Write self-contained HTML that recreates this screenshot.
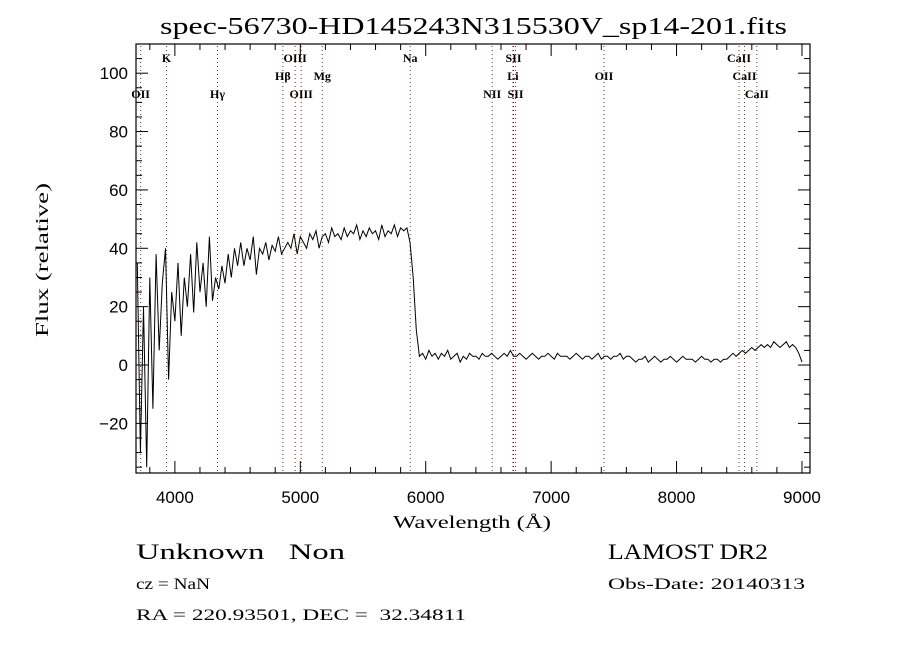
<!DOCTYPE html>
<html><head><meta charset="utf-8"><style>
body{margin:0;background:#fff}
svg text{font-family:"Liberation Serif",serif;fill:#000}
.tk{font-family:"Liberation Sans",sans-serif;font-size:17px}
.ln{font-size:12px;font-weight:bold}
</style></head><body>
<svg id="chart" width="900" height="650" xmlns="http://www.w3.org/2000/svg">
<text x="160" y="34" font-size="24" textLength="627" lengthAdjust="spacingAndGlyphs">spec-56730-HD145243N315530V_sp14-201.fits</text>
<g id="grid"></g>
<g id="axes"></g>
<path id="spec" fill="none" stroke="#000" stroke-width="1"/>
<text x="393" y="528" font-size="18" textLength="158" lengthAdjust="spacingAndGlyphs">Wavelength (Å)</text>
<text transform="translate(48,337) rotate(-90)" font-size="18" textLength="154" lengthAdjust="spacingAndGlyphs">Flux (relative)</text>
<text x="136" y="559" font-size="22" xml:space="preserve" textLength="209" lengthAdjust="spacingAndGlyphs">Unknown   Non</text>
<text x="608" y="559" font-size="22" textLength="160" lengthAdjust="spacingAndGlyphs">LAMOST DR2</text>
<text x="136" y="589" font-size="16" textLength="74" lengthAdjust="spacingAndGlyphs">cz = NaN</text>
<text x="608" y="589" font-size="16" textLength="197" lengthAdjust="spacingAndGlyphs">Obs-Date: 20140313</text>
<text x="136" y="620" font-size="16" xml:space="preserve" textLength="330" lengthAdjust="spacingAndGlyphs">RA = 220.93501, DEC =  32.34811</text>
</svg>
<script>
const waveStart = 3700, waveStep = 25;
const flux = [35,-30,20,-35,30,-15,38,5,28,
40,-5,25,15,35,10,30,20,
38,18,42,25,35,20,44,22,
30,26,34,28,38,30,40,34,
42,34,40,36,44,31,40,38,
42,36,41,39,44,38,40,42,
40,45,38,44,42,40,45,43,
46,40,44,45,42,47,44,45,
43,47,44,46,45,48,43,46,
44,47,45,46,43,48,44,46,
45,48,44,47,46,47,42,30,
12,3,4,2,5,3,4,2,
4,3,5,2,3,4,1,3,
2,4,3,3,2,4,3,3,
4,3,2,3,4,3,5,3,
3,4,3,2,3,4,3,2,
3,3,4,3,2,4,3,3,
3,2,3,4,3,2,3,3,
2,3,4,2,3,3,2,3,
3,4,2,3,3,2,1,2,
2,3,1,2,3,2,1,2,
2,3,2,1,2,3,2,2,
2,1,2,3,2,2,1,2,
2,1,2,2,3,4,3,4,
5,4,5,6,5,6,7,6,
7,6,8,7,6,7,8,6,
7,6,4,1];
const xTicks = [4000,5000,6000,7000,8000,9000];
const yTicks = [-20,0,20,40,60,80,100];
const lineNames = ["OII","K","Hγ","Hβ","OIII","OIII","Mg","Na","NII","Li","SII","SII","OII","CaII","CaII","CaII"];
const lineWaves = [3727,3934,4340,4861,4959,5007,5175,5876,6530,6695,6700,6716,7421,8498,8542,8640];
const lineRows = [2,0,2,1,0,2,1,0,2,1,0,2,1,0,1,2];

const L=136,R=810,T=44,B=473, X0=3690,X1=9064, Y0=-37,Y1=110;
const sx=w=>L+(w-X0)/(X1-X0)*(R-L);
const sy=v=>B-(v-Y0)/(Y1-Y0)*(B-T);
const NS="http://www.w3.org/2000/svg";
function mk(tag,attrs,parent){const e=document.createElementNS(NS,tag);for(const k in attrs)e.setAttribute(k,attrs[k]);parent.appendChild(e);return e;}
const ax=document.getElementById('axes'), gr=document.getElementById('grid');

let frame=mk('rect',{x:L,y:T,width:R-L,height:B-T,fill:'none',stroke:'#000','stroke-width':1.2},ax);



for(let w=3800;w<=9000;w+=200){const x=sx(w),len=(w%1000===0)?12:6;
 mk('line',{x1:x,x2:x,y1:B,y2:B-len,stroke:'#000'},ax);mk('line',{x1:x,x2:x,y1:T,y2:T+len,stroke:'#000'},ax);}
xTicks.forEach(w=>{const t=mk('text',{x:sx(w),y:B+30,'text-anchor':'middle',class:'tk'},ax);t.textContent=w;
 
 });
for(let v=-35;v<=110;v+=5){const y=sy(v),len=(v%20===0)?12:6;
 mk('line',{x1:L,x2:L+len,y1:y,y2:y,stroke:'#000'},ax);mk('line',{x1:R,x2:R-len,y1:y,y2:y,stroke:'#000'},ax);}
yTicks.forEach(v=>{const t=mk('text',{x:L-8,y:sy(v)+6,'text-anchor':'end',class:'tk'},ax);t.textContent=v===-20?'−20':v;
 
 });

lineWaves.forEach((w,i)=>{const x=sx(w);
 const l=mk('line',{x1:x,x2:x,y1:T+2,y2:B-2,stroke:'#8b2020','stroke-width':1,'stroke-dasharray':'1,3'},gr);
 
 
 const t=mk('text',{x:x,y:T+18+lineRows[i]*18,'text-anchor':'middle',class:'ln'},gr);t.textContent=lineNames[i];
 
 });

let d='';flux.forEach((v,i)=>{d+=(i?'L':'M')+sx(waveStart+i*waveStep).toFixed(1)+','+sy(v).toFixed(1);});
document.getElementById('spec').setAttribute('d',d);
</script>
</body></html>
